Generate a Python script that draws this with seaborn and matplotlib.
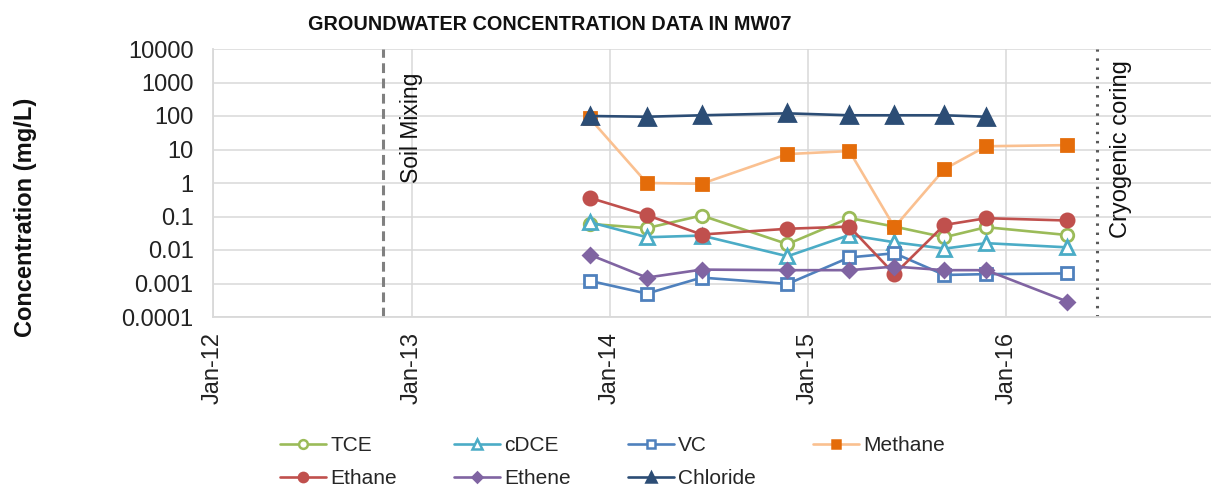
import matplotlib
matplotlib.use("Agg")
import matplotlib.pyplot as plt
from matplotlib.lines import Line2D
import numpy as np
import pandas as pd
import seaborn as sns

# Sampling events in monitoring well MW07
sample_dates = ["2013-11-25", "2014-03-10", "2014-06-19", "2014-11-24", "2015-03-18",
                "2015-06-09", "2015-09-09", "2015-11-25", "2016-04-22"]

# Concentrations (mg/L); NaN where a parameter was not analysed
tce      = [0.060, 0.045, 0.107, 0.015, 0.090, 0.050, 0.024, 0.048, 0.028]
cdce     = [0.068, 0.024, 0.027, 0.0065, 0.028, 0.017, 0.011, 0.016, 0.012]
vc       = [0.0012, 0.0005, 0.0015, 0.00097, 0.006, 0.008, 0.0018, 0.0019, 0.002]
methane  = [85, 1.0, 0.95, 7.3, 9.0, 0.048, 2.6, 12.5, 13.5]
ethane   = [0.36, 0.11, 0.029, 0.043, 0.050, 0.0019, 0.056, 0.089, 0.076]
ethene   = [0.0072, 0.0015, 0.0026, 0.0025, 0.0025, 0.0032, 0.0025, 0.0025, 0.00029]
chloride = [100, 95, 105, 120, 105, 105, 105, 95, np.nan]

# Remedial events
soil_mixing_date = "2012-11-10"
cryogenic_date = "2016-06-16"

y_ticks = [1e4, 1e3, 1e2, 1e1, 1, 0.1, 0.01, 0.001, 0.0001]
y_tick_labels = ["10000", "1000", "100", "10", "1", "0.1", "0.01", "0.001", "0.0001"]
x_tick_dates = ["2012-01-01", "2013-01-01", "2014-01-01", "2015-01-01", "2016-01-01"]
x_tick_labels = ["Jan-12", "Jan-13", "Jan-14", "Jan-15", "Jan-16"]

dates = pd.to_datetime(sample_dates)
df = pd.DataFrame({"date": dates, "TCE": tce, "cDCE": cdce, "VC": vc, "Methane": methane,
                   "Ethane": ethane, "Ethene": ethene, "Chloride": chloride})

sns.set_theme(style="white")
plt.rcParams["font.family"] = ["Liberation Sans", "DejaVu Sans"]

fig = plt.figure(figsize=(12.11, 4.92), dpi=100)
ax = fig.add_axes([213 / 1211, 1 - 317 / 492, 1 - 213 / 1211, (317 - 49) / 492])

series_styles = {
    "TCE":      dict(color="#9BBB59", marker="o", mfc="white", mec="#9BBB59", ms=9),
    "cDCE":     dict(color="#4BACC6", marker="^", mfc="white", mec="#4BACC6", ms=10),
    "VC":       dict(color="#4F81BD", marker="s", mfc="white", mec="#4F81BD", ms=9),
    "Methane":  dict(color="#FAC090", marker="s", mfc="#E46C0A", mec="#E46C0A", ms=9),
    "Ethane":   dict(color="#C0504D", marker="o", mfc="#C0504D", mec="#C0504D", ms=9.5),
    "Ethene":   dict(color="#8064A2", marker="D", mfc="#8064A2", mec="#8064A2", ms=7.5),
    "Chloride": dict(color="#2C4D75", marker="^", mfc="#2C4D75", mec="#2C4D75", ms=11),
}

handles = {}
for name, st in series_styles.items():
    sub = df[["date", name]].dropna()
    sns.lineplot(data=sub, x="date", y=name, ax=ax, color=st["color"], marker=st["marker"],
                 markerfacecolor=st["mfc"], markeredgecolor=st["mec"], markersize=st["ms"],
                 markeredgewidth=2.0, linewidth=1.9, sort=False, legend=False)
    handles[name] = Line2D([], [], color=st["color"], marker=st["marker"],
                           markerfacecolor=st["mfc"], markeredgecolor=st["mec"],
                           markersize=st["ms"] * 0.7, markeredgewidth=1.8, linewidth=1.9)

ax.set_yscale("log")
ax.set_ylim(1e-4, 1e4)
ax.set_xlim(pd.Timestamp("2012-01-01"), pd.Timestamp("2017-01-12"))
ax.set_yticks(y_ticks)
ax.set_yticklabels(y_tick_labels)
ax.yaxis.set_minor_locator(matplotlib.ticker.NullLocator())
ax.set_xticks(pd.to_datetime(x_tick_dates))
ax.set_xticklabels(x_tick_labels, rotation=90, va="top", ha="center")
ax.tick_params(axis="y", length=0, pad=14, labelsize=17, colors="#222222")
ax.tick_params(axis="x", length=0, pad=11, labelsize=17, colors="#222222")

ax.grid(True, which="major", color="#D9D9D9", linewidth=1.1)
ax.set_axisbelow(True)
for side in ["top", "right"]:
    ax.spines[side].set_visible(False)
for side in ["left", "bottom"]:
    ax.spines[side].set_color("#D9D9D9")
    ax.spines[side].set_linewidth(1.3)

ax.set_xlabel("")
ax.set_ylabel("")

# Remedial event markers
ax.axvline(pd.Timestamp(soil_mixing_date), color="#808080", linestyle=(0, (3.2, 1.8)), linewidth=2.2, zorder=1)
ax.axvline(pd.Timestamp(cryogenic_date), color="#595959", linestyle=(0, (0.8, 2.2)), linewidth=2.2, zorder=1)
ax.text(412 / 1211, 1 - 73 / 492, "Soil Mixing", transform=fig.transFigure, rotation=90,
        ha="center", va="top", fontsize=16.5, color="#111111")
ax.text(1121 / 1211, 1 - 60 / 492, "Cryogenic coring", transform=fig.transFigure, rotation=90,
        ha="center", va="top", fontsize=17, color="#111111")

fig.text(26 / 1211, 1 - 217 / 492, "Concentration (mg/L)", rotation=90, ha="center", va="center",
         fontsize=17, fontweight="bold", color="#111111")
fig.text(550 / 1211, 1 - 24 / 492, "GROUNDWATER CONCENTRATION DATA IN MW07", ha="center", va="center",
         fontsize=14.3, fontweight="bold", color="#111111")

# Column-major ordering so rows read TCE, cDCE, VC, Methane / Ethane, Ethene, Chloride
legend_order = ["TCE", "Ethane", "cDCE", "Ethene", "VC", "Chloride", "Methane"]
fig.legend([handles[n] for n in legend_order], legend_order, ncol=4, frameon=False,
           loc="upper left", bbox_to_anchor=(270 / 1211, 1 - 426 / 492), borderpad=0,
           fontsize=15, handlelength=2.2, handletextpad=0.2, columnspacing=2.75,
           labelspacing=0.65, numpoints=1)

fig.savefig("out.png", dpi=100)
